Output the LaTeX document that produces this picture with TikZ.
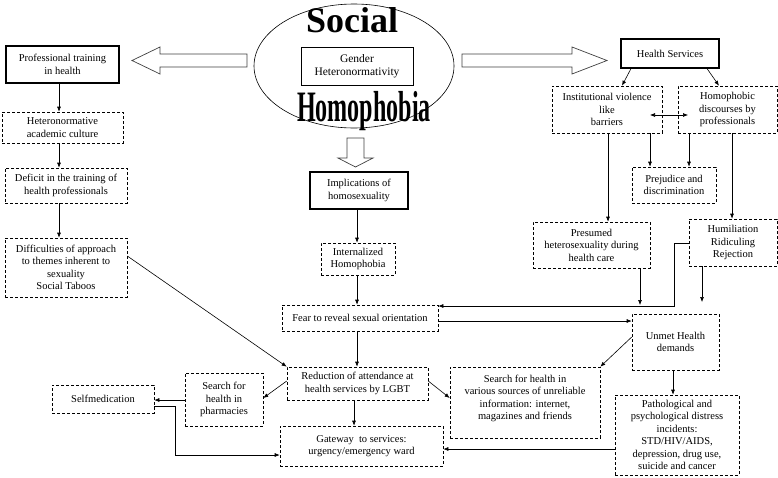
\documentclass[tikz,border=0pt]{standalone}
\usepackage{fontspec}
\setmainfont{Liberation Serif}
\usetikzlibrary{shapes.geometric,arrows.meta}
\begin{document}
\begin{tikzpicture}[x=1pt,y=-1pt,
  every node/.style={font=\fontsize{10.5}{12.5}\selectfont, align=center, inner sep=0pt},
  sbox/.style={draw, line width=1.1pt},
  dbox/.style={draw, line width=0.6pt, dash pattern=on 3pt off 2pt},
  arr/.style={line width=0.6pt, -{Latex[length=5pt,width=4pt]}},
  hollow/.style={draw=black!75, line width=0.7pt, fill=white},
  bx/.style 2 args={minimum width=#1pt, minimum height=#2pt}
]
\useasboundingbox (0,0) rectangle (778,477);

% central ellipse
\node[ellipse, draw, line width=0.6pt, minimum width=200pt, minimum height=124pt] (soc) at (354,66) {};
\node[anchor=base, font=\fontsize{36}{36}\bfseries] (socw) at (352,32) {Social};
\node[anchor=base, font=\fontsize{28}{28}\bfseries] (homw) at (364,121) {\scalebox{0.86}[1.55]{Homophobia}};
\node[draw, line width=0.6pt, bx={112}{38}, font=\fontsize{11.5}{13.5}\selectfont] (gender) at (357,66) {Gender\\Heteronormativity};

% hollow arrows
\draw[hollow] (247,54) -- (160,54) -- (160,47) -- (132,60.5) -- (160,74) -- (160,67) -- (247,67) -- cycle;
\draw[hollow] (462,54) -- (572,54) -- (572,47) -- (607,60.5) -- (572,74) -- (572,67) -- (462,67) -- cycle;
\draw[hollow] (347,138) -- (347,158) -- (338,158) -- (355.5,167) -- (373,158) -- (364,158) -- (364,138) -- cycle;

% left column
\node[sbox, bx={113}{37}] (prof) at (62.5,64.5) {Professional training\\in health};
\node[dbox, bx={121}{31}] (hetac) at (62.5,127.5) {Heteronormative\\academic culture};
\node[dbox, bx={122}{35}] (deficit) at (66,185.5) {Deficit in the training of\\health professionals};
\node[dbox, bx={122}{59}] (diffic) at (66,267.5) {Difficulties of approach\\to themes inherent to\\sexuality\\Social Taboos};

% middle column
\node[sbox, bx={98}{37}] (impl) at (359,190.5) {Implications of\\homosexuality};
\node[dbox, bx={74}{32}] (intern) at (358,259) {Internalized\\Homophobia};
\node[dbox, bx={156}{26}] (fear) at (360,318) {Fear to reveal sexual orientation};
\node[dbox, bx={141}{33}] (reduct) at (357.5,383.5) {Reduction of attendance at\\health services by LGBT};
\node[dbox, bx={163}{40}] (gateway) at (361.5,446) {Gateway\ \ to services:\\urgency/emergency ward};
\node[dbox, bx={78}{53}] (pharm) at (224,399.5) {Search for\\health in\\pharmacies};
\node[dbox, bx={102}{28}] (selfmed) at (103,399) {Selfmedication};
\node[dbox, bx={150}{71}, text depth=10pt] (various) at (525,402.5) {Search for health in\\various sources of unreliable\\information: internet,\\magazines and friends};

% right column
\node[sbox, bx={98}{29}] (health) at (670,53.5) {Health Services};
\node[dbox, bx={110}{47}] (inst) at (607,109.5) {Institutional violence\\like\\barriers};
\node[dbox, bx={99}{47}] (homod) at (727.5,109.5) {Homophobic\\discourses by\\professionals};
\node[dbox, bx={84}{36}] (prej) at (674,185) {Prejudice and\\discrimination};
\node[dbox, bx={117}{46}] (presumed) at (591.5,245) {Presumed\\heterosexuality during\\health care};
\node[dbox, bx={88}{47}] (humil) at (733,242.5) {Humiliation\\Ridiculing\\Rejection};
\node[dbox, bx={87}{56}] (unmet) at (675.5,342) {Unmet Health\\demands};
\node[dbox, bx={124}{80}] (patho) at (677,435) {Pathological and\\psychological distress\\incidents:\\STD/HIV/AIDS,\\depression, drug use,\\suicide and cancer};

\coordinate (dl) at (650,115);
\coordinate (dr) at (688,115);
\coordinate (pj) at (640,305);
\coordinate (hu) at (702,302);
\coordinate (k1) at (674,243);
\coordinate (k2) at (674,306);
\coordinate (s1) at (175,406);

% connectors
\draw[arr] (prof.south -| 59,0) -- (hetac.north -| 59,0);
\draw[arr] (hetac.south -| 59,0) -- (deficit.north -| 59,0);
\draw[arr] (deficit.south -| 59,0) -- (diffic.north -| 59,0);
\draw[arr] (diffic.east |- 0,256) -- (reduct.north west);
\draw[arr] (impl.south -| 357,0) -- (intern.north -| 357,0);
\draw[arr] (intern.south -| 357,0) -- (fear.north -| 357,0);
\draw[arr] (fear.south -| 357,0) -- (reduct.north -| 357,0);
\draw[arr] (reduct.south -| 354,0) -- (gateway.north -| 354,0);
\draw[arr] (reduct.west |- 0,381) -- (pharm.east |- 0,398);
\draw[arr] (reduct.east |- 0,381) -- (various.west |- 0,398);
\draw[arr] (pharm.west |- 0,400) -- (selfmed.east |- 0,400);
\draw[arr] (selfmed.east |- 0,406) -- (s1) |- (gateway.west |- 0,455);
\draw[arr] (patho.west |- 0,449) -- (gateway.east |- 0,449);
\draw[arr] (health.south -| 631,0) -- (inst.north -| 622,0);
\draw[arr] (health.south -| 707,0) -- (homod.north -| 719,0);
\draw[line width=0.6pt, {Latex[length=5pt,width=4pt]}-{Latex[length=5pt,width=4pt]}] (dl) -- (dr);
\draw[arr] (inst.south -| 650,0) -- (prej.north -| 650,0);
\draw[arr] (homod.south -| 689,0) -- (prej.north -| 689,0);
\draw[arr] (inst.south -| 608,0) -- (presumed.north -| 608,0);
\draw[arr] (homod.south -| 732,0) -- (humil.north -| 732,0);
\draw[arr] (presumed.south -| pj) -- (pj);
\draw[arr] (humil.west |- k1) -- (k1) -- (k2) -- (fear.east |- k2);
\draw[arr] (humil.south -| hu) -- (hu);
\draw[arr] (fear.east |- 0,321) -- (unmet.west |- 0,321);
\draw[arr] (unmet.west |- 0,337) -- (various.north east);
\draw[arr] (unmet.south -| 673,0) -- (patho.north -| 673,0);
\end{tikzpicture}
\end{document}
